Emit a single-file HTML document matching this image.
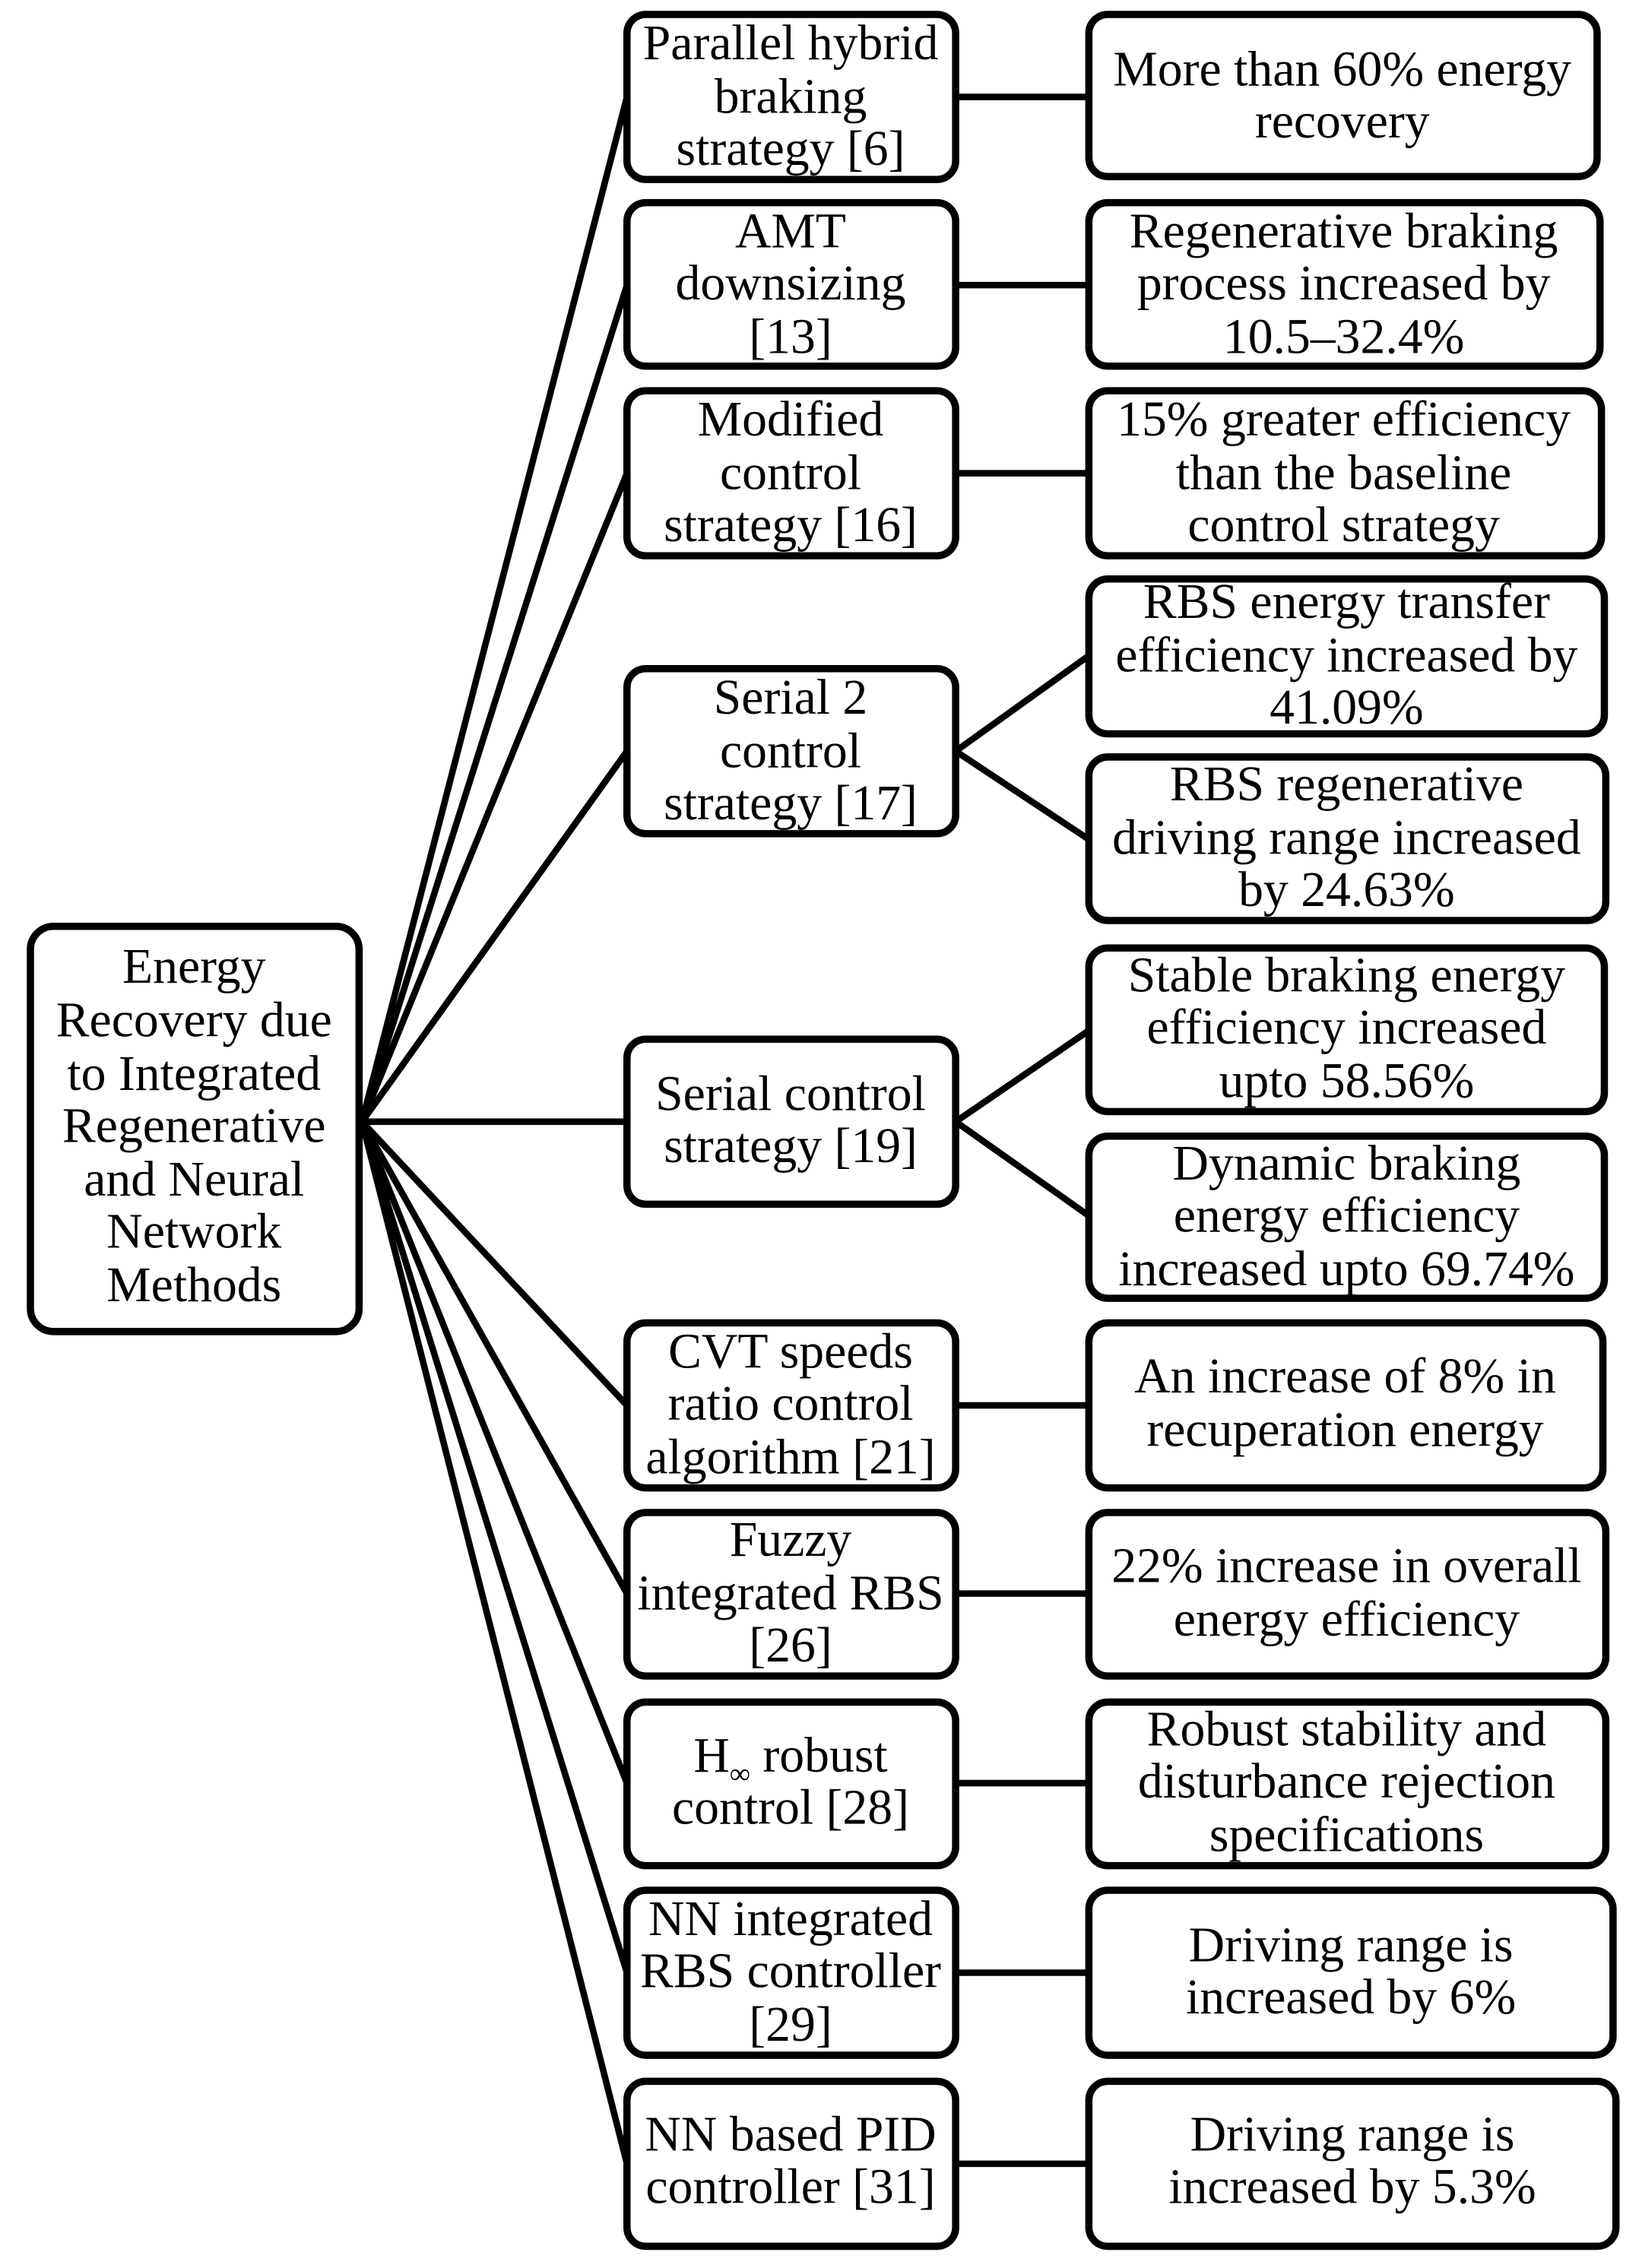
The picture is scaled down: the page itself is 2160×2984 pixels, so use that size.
<!DOCTYPE html>
<html><head><meta charset="utf-8"><style>
html,body{margin:0;padding:0;background:#fff;}
svg{display:block;}
text{font-family:"Liberation Serif","Times New Roman",serif;font-size:34.5px;text-anchor:middle;fill:#000;}
</style></head><body>
<svg width="2160" height="2984" viewBox="0 0 1134 1567" preserveAspectRatio="none" xmlns="http://www.w3.org/2000/svg">
<g stroke="#000" stroke-width="4.5" fill="none">
<line x1="250" y1="775" x2="433" y2="67"/>
<line x1="250" y1="775" x2="433" y2="197"/>
<line x1="250" y1="775" x2="433" y2="327"/>
<line x1="250" y1="775" x2="433" y2="519"/>
<line x1="250" y1="775" x2="433" y2="775"/>
<line x1="250" y1="775" x2="433" y2="971"/>
<line x1="250" y1="775" x2="433" y2="1101"/>
<line x1="250" y1="775" x2="433" y2="1232"/>
<line x1="250" y1="775" x2="433" y2="1363"/>
<line x1="250" y1="775" x2="433" y2="1495"/>
<line x1="660" y1="67" x2="752" y2="67"/>
<line x1="660" y1="197" x2="752" y2="197"/>
<line x1="660" y1="327" x2="752" y2="327"/>
<line x1="660" y1="519" x2="752" y2="453"/>
<line x1="660" y1="519" x2="752" y2="580"/>
<line x1="660" y1="775" x2="752" y2="712"/>
<line x1="660" y1="775" x2="752" y2="840"/>
<line x1="660" y1="971" x2="752" y2="971"/>
<line x1="660" y1="1101" x2="752" y2="1101"/>
<line x1="660" y1="1232" x2="752" y2="1232"/>
<line x1="660" y1="1363" x2="752" y2="1363"/>
<line x1="660" y1="1495" x2="752" y2="1495"/>
</g>
<g stroke="#000" stroke-width="5" fill="#fff">
<rect x="21" y="640" width="227" height="280" rx="16"/>
<rect x="433" y="10" width="227" height="114" rx="13"/>
<rect x="433" y="140" width="227" height="113" rx="13"/>
<rect x="433" y="270" width="227" height="114" rx="13"/>
<rect x="433" y="462" width="227" height="114" rx="13"/>
<rect x="433" y="718" width="227" height="114" rx="13"/>
<rect x="433" y="914" width="227" height="114" rx="13"/>
<rect x="433" y="1045" width="227" height="113" rx="13"/>
<rect x="433" y="1176" width="227" height="113" rx="13"/>
<rect x="433" y="1306" width="227" height="114" rx="13"/>
<rect x="433" y="1438" width="227" height="114" rx="13"/>
<rect x="752" y="10" width="351" height="112" rx="13"/>
<rect x="752" y="140" width="353" height="113" rx="13"/>
<rect x="752" y="270" width="354" height="114" rx="13"/>
<rect x="752" y="400" width="356" height="107" rx="13"/>
<rect x="752" y="523" width="357" height="113" rx="13"/>
<rect x="752" y="655" width="356" height="113" rx="13"/>
<rect x="752" y="785" width="356" height="112" rx="13"/>
<rect x="752" y="914" width="355" height="114" rx="13"/>
<rect x="752" y="1045" width="357" height="113" rx="13"/>
<rect x="752" y="1176" width="357" height="113" rx="13"/>
<rect x="752" y="1306" width="362" height="114" rx="13"/>
<rect x="752" y="1438" width="364" height="114" rx="13"/>
</g>
<g>
<text x="134" y="679">Energy</text>
<text x="134" y="716">Recovery due</text>
<text x="134" y="753">to Integrated</text>
<text x="134" y="789">Regenerative</text>
<text x="134" y="826">and Neural</text>
<text x="134" y="862">Network</text>
<text x="134" y="899">Methods</text>

<text x="546" y="41">Parallel hybrid</text>
<text x="546" y="78">braking</text>
<text x="546" y="114">strategy [6]</text>
<text x="546" y="171">AMT</text>
<text x="546" y="207">downsizing</text>
<text x="546" y="244">[13]</text>
<text x="546" y="301">Modified</text>
<text x="546" y="338">control</text>
<text x="546" y="374">strategy [16]</text>
<text x="546" y="493">Serial 2</text>
<text x="546" y="530">control</text>
<text x="546" y="566">strategy [17]</text>
<text x="546" y="767">Serial control</text>
<text x="546" y="803">strategy [19]</text>
<text x="546" y="945">CVT speeds</text>
<text x="546" y="981">ratio control</text>
<text x="546" y="1018">algorithm [21]</text>
<text x="546" y="1075">Fuzzy</text>
<text x="546" y="1112">integrated RBS</text>
<text x="546" y="1148">[26]</text>
<text x="546" y="1224">H<tspan font-size="20" dy="8">∞</tspan><tspan dy="-8"> robust</tspan></text>
<text x="546" y="1260">control [28]</text>
<text x="546" y="1337">NN integrated</text>
<text x="546" y="1373">RBS controller</text>
<text x="546" y="1410">[29]</text>
<text x="546" y="1486">NN based PID</text>
<text x="546" y="1522">controller [31]</text>

<text x="927" y="59">More than 60% energy</text>
<text x="927" y="95">recovery</text>
<text x="928" y="171">Regenerative braking</text>
<text x="928" y="207">process increased by</text>
<text x="928" y="244">10.5–32.4%</text>
<text x="928" y="301">15% greater efficiency</text>
<text x="928" y="338">than the baseline</text>
<text x="928" y="374">control strategy</text>
<text x="930" y="427">RBS energy transfer</text>
<text x="930" y="464">efficiency increased by</text>
<text x="930" y="500">41.09%</text>
<text x="930" y="553">RBS regenerative</text>
<text x="930" y="590">driving range increased</text>
<text x="930" y="626">by 24.63%</text>
<text x="930" y="685">Stable braking energy</text>
<text x="930" y="721">efficiency increased</text>
<text x="930" y="758">upto 58.56%</text>
<text x="930" y="815">Dynamic braking</text>
<text x="930" y="851">energy efficiency</text>
<text x="930" y="888">increased upto 69.74%</text>
<text x="929" y="962">An increase of 8% in</text>
<text x="929" y="999">recuperation energy</text>
<text x="930" y="1093">22% increase in overall</text>
<text x="930" y="1130">energy efficiency</text>
<text x="930" y="1206">Robust stability and</text>
<text x="930" y="1242">disturbance rejection</text>
<text x="930" y="1279">specifications</text>
<text x="933" y="1355">Driving range is</text>
<text x="933" y="1391">increased by 6%</text>
<text x="934" y="1486">Driving range is</text>
<text x="934" y="1522">increased by 5.3%</text>
</g>
</svg>
</body></html>
